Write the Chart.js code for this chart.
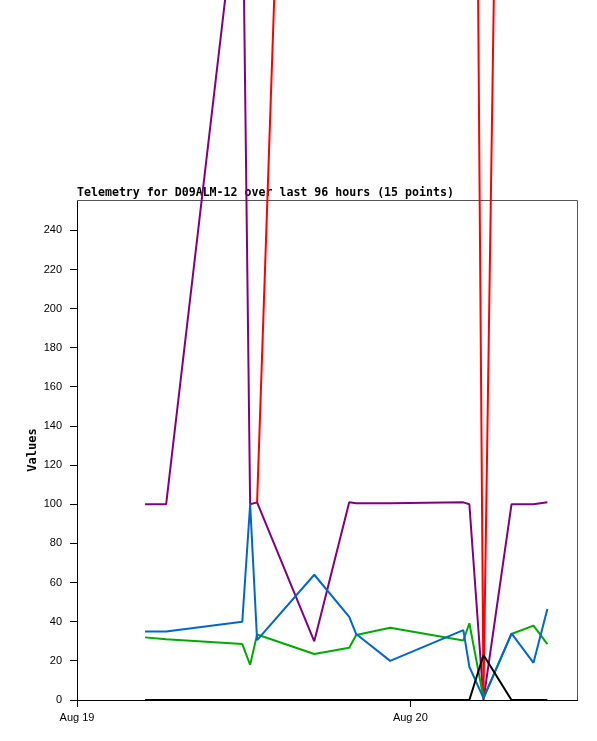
<!DOCTYPE html>
<html>
<head>
<meta charset="utf-8">
<title>Telemetry</title>
<script src="https://cdn.jsdelivr.net/npm/chart.js@4.4.1/dist/chart.umd.min.js"></script>
<style>
  html, body { margin: 0; padding: 0; background: #fff; }
  #wrap { width: 597px; height: 741px; position: relative; }
</style>
</head>
<body>
<div id="wrap"><canvas id="chartCanvas"></canvas></div>
<script>
// sample times (15 points)
const times = [
  '2024-08-19T04:54', '2024-08-19T06:25', '2024-08-19T11:54', '2024-08-19T12:28',
  '2024-08-19T12:58', '2024-08-19T17:05', '2024-08-19T19:36', '2024-08-19T20:06',
  '2024-08-19T22:33', '2024-08-20T03:49', '2024-08-20T04:15', '2024-08-20T05:16',
  '2024-08-20T07:17', '2024-08-20T08:52', '2024-08-20T09:52'
];
const purpleVals = [100, 100, 433, 100, 101, 30, 101, 100.5, 100.5, 101, 100, 0, 100, 100, 101];
const redVals = [null, null, null, null, 101, 961, 958, 957, 955, 950, 942, 2, 970, 968, 966];
const greenVals = [32, 31, 28.6, 18, 33.5, 23.5, 26.7, 33.2, 36.9, 30.4, 39.2, 1, 33.7, 38, 28.6];
const blueVals = [35, 35, 40, 100, 30.6, 64, 42.5, 33.7, 20, 35.7, 17, 1, 34, 19, 46.5];
const blackVals = [0, 0, 0, 0, 0, 0, 0, 0, 0, 0, 0, 23, 0, 0, 0];
const dayLabels = ['Aug 19', 'Aug 20'];
const yTicks = [0, 20, 40, 60, 80, 100, 120, 140, 160, 180, 200, 220, 240];

const startMs = Date.parse('2024-08-19T00:00Z');
const hours = times.map(t => (Date.parse(t + 'Z') - startMs) / 3600000);

function pts(vals) {
  return vals.map((v, i) => ({ x: hours[i], y: v }));
}

function series(label, vals, color) {
  return {
    label: label,
    data: pts(vals),
    borderColor: color,
    backgroundColor: color,
    borderWidth: 2,
    borderJoinStyle: 'bevel',
    pointRadius: 0,
    tension: 0,
    clip: false,
    spanGaps: false
  };
}

// title at the plot's left edge, drawn under the lines
const plotTitle = {
  id: 'plotTitle',
  beforeDatasetsDraw(chart) {
    const { ctx, chartArea } = chart;
    ctx.save();
    // top / right frame in grey
    ctx.strokeStyle = '#555';
    ctx.lineWidth = 1;
    ctx.beginPath();
    ctx.moveTo(chartArea.left, chartArea.top + 0.5);
    ctx.lineTo(chartArea.right + 0.5, chartArea.top + 0.5);
    ctx.lineTo(chartArea.right + 0.5, chartArea.bottom);
    ctx.stroke();
    ctx.fillStyle = '#000';
    ctx.font = 'bold 11.6px "DejaVu Sans Mono"';
    ctx.textBaseline = 'alphabetic';
    ctx.textAlign = 'left';
    ctx.fillText('Telemetry for D09ALM-12 over last 96 hours (15 points)', chartArea.left, chartArea.top - 4);
    ctx.restore();
  }
};

const ctx = document.getElementById('chartCanvas').getContext('2d');
new Chart(ctx, {
  type: 'line',
  data: {
    datasets: [
      series('black', blackVals, '#000000'),
      series('blue', blueVals, '#0066cc'),
      series('green', greenVals, '#00aa00'),
      series('red', redVals, '#ff0000'),
      series('purple', purpleVals, '#800080')
    ]
  },
  options: {
    responsive: true,
    maintainAspectRatio: false,
    animation: false,
    layout: { padding: { top: 200, right: 20, left: 0, bottom: 0 } },
    plugins: {
      legend: { display: false },
      tooltip: { enabled: false }
    },
    scales: {
      x: {
        type: 'linear',
        min: 0,
        max: 36,
        afterFit(scale) { scale.height = 41; },
        afterBuildTicks(scale) {
          scale.ticks = [{ value: 0 }, { value: 24 }];
        },
        grid: { drawOnChartArea: false, tickLength: 7, color: '#000' },
        border: { color: '#000', width: 1 },
        ticks: {
          color: '#000',
          padding: 4,
          maxRotation: 0,
          font: { family: 'Liberation Sans', size: 11 },
          callback: v => dayLabels[Math.round(v / 24)]
        }
      },
      y: {
        min: 0,
        max: 255.5,
        afterFit(scale) { scale.width = 77; },
        afterBuildTicks(scale) {
          scale.ticks = yTicks.map(v => ({ value: v }));
        },
        grid: { drawOnChartArea: false, tickLength: 7, color: '#000' },
        border: { color: '#000', width: 1 },
        ticks: {
          color: '#000',
          padding: 8,
          font: { family: 'Liberation Sans', size: 11 }
        },
        title: {
          display: true,
          text: 'Values',
          color: '#000',
          padding: { top: 26, bottom: 0 },
          font: { family: 'DejaVu Sans Mono', size: 12, weight: 'bold' }
        }
      }
    }
  },
  plugins: [plotTitle]
});
</script>
</body>
</html>
